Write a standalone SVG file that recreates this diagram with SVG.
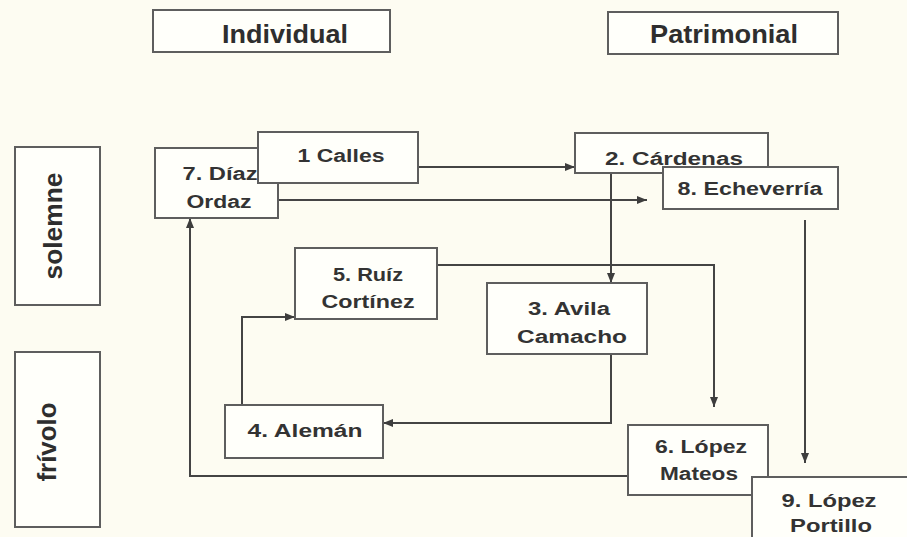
<svg xmlns="http://www.w3.org/2000/svg" width="907" height="537" viewBox="0 0 907 537">
<defs>
<marker id="ah" viewBox="0 0 10 10" refX="10" refY="5" markerWidth="10" markerHeight="10" markerUnits="userSpaceOnUse" orient="auto">
<path d="M0,1 L10,5 L0,9 z" fill="#3d3d3d"/>
</marker>
<style>
.box{fill:#fffffa;stroke:#5e5e5e;stroke-width:2}
.t{font-family:"Liberation Sans",Arial,sans-serif;font-weight:bold;font-size:18px;fill:#333;text-anchor:middle}
.h{font-family:"Liberation Sans",Arial,sans-serif;font-weight:bold;font-size:25px;fill:#2e2e2e;text-anchor:middle}
.c{fill:none;stroke:#444;stroke-width:2}
</style>
</defs>
<rect width="907" height="537" fill="#fdfcf2"/>
<g id="hdr-individual"><rect class="box" x="153" y="10" width="237" height="42"/><text class="h" x="285" y="43" textLength="126" lengthAdjust="spacingAndGlyphs">Individual</text></g>
<g id="hdr-patrimonial"><rect class="box" x="608" y="12" width="230" height="42"/><text class="h" x="724" y="43" textLength="148" lengthAdjust="spacingAndGlyphs">Patrimonial</text></g>
<g id="row-solemne"><rect class="box" x="15" y="147" width="85" height="158"/><text class="h" transform="translate(62,226) rotate(-90)" font-size="20" textLength="107" lengthAdjust="spacingAndGlyphs">solemne</text></g>
<g id="row-frivolo"><rect class="box" x="15" y="352" width="85" height="175"/><text class="h" transform="translate(56,442) rotate(-90)" font-size="22" textLength="79" lengthAdjust="spacingAndGlyphs">frívolo</text></g>
<g id="connectors">
<path class="c" d="M418,167 H575" marker-end="url(#ah)"/>
<path class="c" d="M278,200 H647" marker-end="url(#ah)"/>
<path class="c" d="M611,173 V283" marker-end="url(#ah)"/>
<path class="c" d="M611,354 V423 H383" marker-end="url(#ah)"/>
<path class="c" d="M242,405 V317 H295" marker-end="url(#ah)"/>
<path class="c" d="M437,265 H714 V407" marker-end="url(#ah)"/>
<path class="c" d="M805,220 V463" marker-end="url(#ah)"/>
<path class="c" d="M628,476 H190 V218" marker-end="url(#ah)"/>
</g>
<g id="n7"><rect class="box" x="155" y="148" width="123" height="70"/><text class="t" x="220" y="180" textLength="75" lengthAdjust="spacingAndGlyphs">7. Díaz</text><text class="t" x="219" y="208" textLength="65" lengthAdjust="spacingAndGlyphs">Ordaz</text></g>
<g id="n1"><rect class="box" x="258" y="132" width="160" height="51"/><text class="t" x="341" y="162" textLength="87" lengthAdjust="spacingAndGlyphs">1 Calles</text></g>
<g id="n2"><rect class="box" x="575" y="133" width="193" height="40"/><text class="t" x="674" y="165" textLength="138" lengthAdjust="spacingAndGlyphs">2. Cárdenas</text></g>
<g id="n8"><rect class="box" x="663" y="167" width="175" height="42"/><text class="t" x="750" y="195" textLength="145" lengthAdjust="spacingAndGlyphs">8. Echeverría</text></g>
<g id="n5"><rect class="box" x="295" y="248" width="142" height="71"/><text class="t" x="368" y="281" textLength="70" lengthAdjust="spacingAndGlyphs">5. Ruíz</text><text class="t" x="368" y="308" textLength="93" lengthAdjust="spacingAndGlyphs">Cortínez</text></g>
<g id="n3"><rect class="box" x="487" y="283" width="160" height="71"/><text class="t" x="569" y="315" textLength="82" lengthAdjust="spacingAndGlyphs">3. Avila</text><text class="t" x="572" y="343" textLength="110" lengthAdjust="spacingAndGlyphs">Camacho</text></g>
<g id="n4"><rect class="box" x="225" y="405" width="158" height="53"/><text class="t" x="305" y="437" textLength="115" lengthAdjust="spacingAndGlyphs">4. Alemán</text></g>
<g id="n6"><rect class="box" x="628" y="425" width="140" height="70"/><text class="t" x="701" y="453" textLength="92" lengthAdjust="spacingAndGlyphs">6. López</text><text class="t" x="699" y="480" textLength="78" lengthAdjust="spacingAndGlyphs">Mateos</text></g>
<g id="n9"><rect class="box" x="752" y="477" width="160" height="70"/><text class="t" x="829" y="507" textLength="95" lengthAdjust="spacingAndGlyphs">9. López</text><text class="t" x="831" y="532" textLength="82" lengthAdjust="spacingAndGlyphs">Portillo</text></g>
</svg>
